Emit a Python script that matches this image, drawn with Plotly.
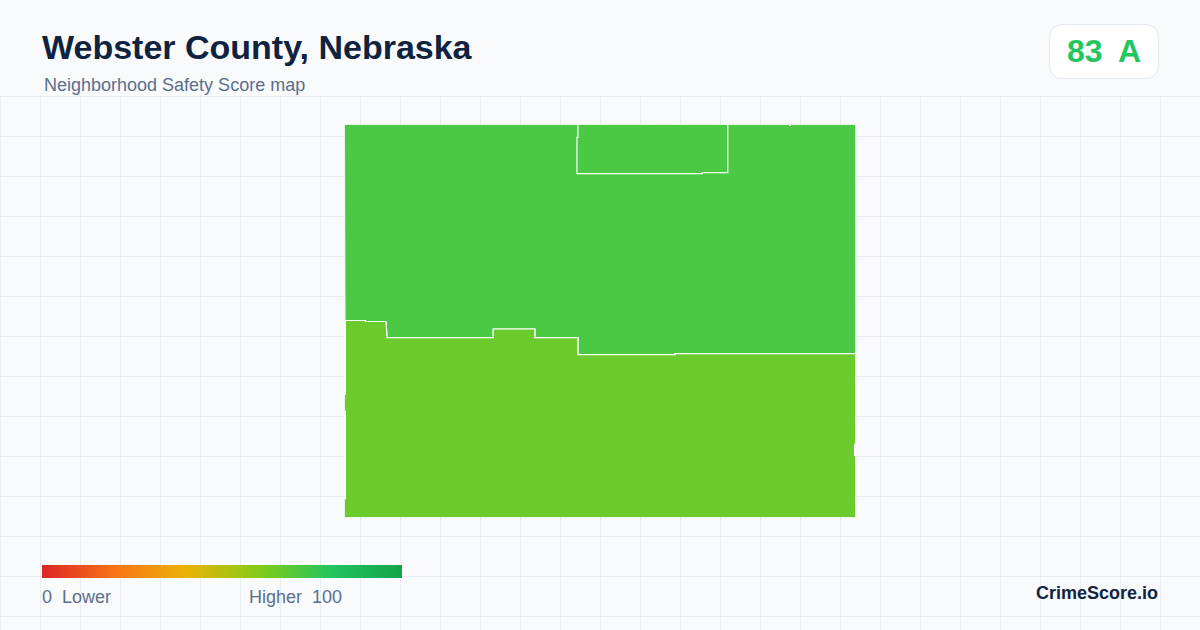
#!/usr/bin/python

import plotly.graph_objects as go

# county pieces, lon / lat
north_lon = [-98.72, -98.3204, -98.3204, -98.3195, -98.3195, -98.261, -98.261, -98.423, -98.423, -98.5103, -98.5103,
             -98.549, -98.549, -98.58635, -98.58635, -98.68175, -98.6822, -98.68265, -98.7011, -98.7011, -98.71955,
             -98.71955, -98.72, -98.72]
north_lat = [40.3528, 40.3528, 40.3519, 40.3519, 40.3528, 40.3528, 40.14715, 40.14715, 40.14625, 40.14625, 40.16155,
             40.16155, 40.1692, 40.1692, 40.16155, 40.16155, 40.1692, 40.17595, 40.17595, 40.17685, 40.17685,
             40.261, 40.261, 40.3528]

town_lon = [-98.5103, -98.37575, -98.37575, -98.3987, -98.3987, -98.5112, -98.5112, -98.5103, -98.5103]
town_lat = [40.3528, 40.3528, 40.3096, 40.3096, 40.3087, 40.3087, 40.3411, 40.3411, 40.3528]

south_lon = [-98.7191, -98.7011, -98.7011, -98.68265, -98.6822, -98.68175, -98.58635, -98.58635, -98.549, -98.549,
             -98.5103, -98.5103, -98.423, -98.423, -98.261, -98.261, -98.2619, -98.2619, -98.261, -98.261, -98.72,
             -98.72, -98.7191, -98.7191, -98.72, -98.72, -98.7191, -98.7191]
south_lat = [40.17685, 40.17685, 40.17595, 40.17595, 40.1692, 40.16155, 40.16155, 40.1692, 40.1692, 40.16155,
             40.16155, 40.14625, 40.14625, 40.14715, 40.14715, 40.0657, 40.0657, 40.0558, 40.0558, 40.0, 40.0,
             40.0171, 40.0171, 40.0954, 40.0954, 40.1107, 40.1107, 40.17685]

north_color = "#4bc944"
town_color = "#4bc944"
south_color = "#6bcb2c"

# legend ramp
legend_scores = [0, 20, 40, 60, 80, 100]
legend_colors = ["#dc2626", "#f97316", "#eab308", "#84cc16", "#22c55e", "#16a34a"]

bg = "#f8fafc"
grid = "#e6eef2"
navy = "#0f2341"
slate = "#5b6f8c"

fig = go.Figure()

for lon, lat, color in [(north_lon, north_lat, north_color),
                        (town_lon, town_lat, town_color),
                        (south_lon, south_lat, south_color)]:
    fig.add_trace(go.Scatter(x=lon, y=lat, mode="lines", fill="toself", fillcolor=color,
                             line=dict(color="#ffffff", width=1.2), hoverinfo="skip",
                             showlegend=False, xaxis="x2", yaxis="y2"))

fig.add_trace(go.Heatmap(x=legend_scores, y=[0, 1], z=[legend_scores, legend_scores], zmin=0, zmax=100,
                         zsmooth="best", showscale=False, hoverinfo="skip",
                         colorscale=[[s / 100, c] for s, c in zip(legend_scores, legend_colors)],
                         xaxis="x3", yaxis="y3"))

# background grid + score badge, in page pixels
shapes = []
for x in range(0, 1200, 40):
    shapes.append(dict(type="line", xref="x", yref="y", x0=x + 0.5, x1=x + 0.5, y0=96, y1=630,
                       line=dict(color=grid, width=1), layer="below"))
for y in range(96, 630, 40):
    shapes.append(dict(type="line", xref="x", yref="y", x0=0, x1=1200, y0=y + 0.5, y1=y + 0.5,
                       line=dict(color=grid, width=1), layer="below"))
shapes.append(dict(type="path", xref="x", yref="y", layer="below",
                   path="M 1063.5 24.5 L 1144.5 24.5 Q 1158.5 24.5 1158.5 38.5 L 1158.5 64.5 Q 1158.5 78.5 1144.5 78.5 "
                        "L 1063.5 78.5 Q 1049.5 78.5 1049.5 64.5 L 1049.5 38.5 Q 1049.5 24.5 1063.5 24.5 Z",
                   fillcolor="#ffffff", line=dict(color="#e2e8f0", width=1)))


def label(x, y, text, size, color, bold=False, anchor="left"):
    return dict(x=x, y=y, xref="x", yref="y", text="<b>%s</b>" % text if bold else text, showarrow=False,
                xanchor=anchor, yanchor="middle", borderpad=0, borderwidth=0,
                font=dict(family="Liberation Sans", size=size, color=color))


annotations = [
    label(42, 47, "Webster County, Nebraska", 34, navy, bold=True),
    label(44, 85, "Neighborhood Safety Score map", 18, slate),
    label(1066.5, 51, "83", 32, "#22c55e", bold=True),
    label(1117.5, 51, "A", 32, "#22c55e", bold=True),
    label(42, 597, "0", 18, slate),
    label(62, 597, "Lower", 18, slate),
    label(249, 597, "Higher", 18, slate),
    label(312, 597, "100", 18, slate),
    label(1158, 593, "CrimeScore.io", 18, navy, bold=True, anchor="right"),
]

hidden = dict(visible=False, fixedrange=True)
fig.update_layout(
    width=1200, height=630, autosize=False,
    margin=dict(l=0, r=0, t=0, b=0, pad=0),
    paper_bgcolor=bg, plot_bgcolor="rgba(0,0,0,0)",
    showlegend=False,
    shapes=shapes,
    annotations=annotations,
    xaxis=dict(range=[0, 1200], domain=[0, 1], **hidden),
    yaxis=dict(range=[630, 0], domain=[0, 1], **hidden),
    xaxis2=dict(range=[-98.72, -98.261], domain=[344.4 / 1200, 855.6 / 1200], anchor="y2", **hidden),
    yaxis2=dict(range=[40.0, 40.3528], domain=[112.4 / 630, 505.6 / 630], anchor="x2", **hidden),
    xaxis3=dict(range=[0, 100], domain=[42 / 1200, 402 / 1200], anchor="y3", **hidden),
    yaxis3=dict(range=[0, 1], domain=[52 / 630, 65 / 630], anchor="x3", **hidden),
)

# the pixel axes need a trace, otherwise they never get drawn
fig.add_trace(go.Scatter(x=[None], y=[None], mode="lines", hoverinfo="skip", showlegend=False))

# page margin would push everything 8px off
fig.write_html("out.html", config=dict(displayModeBar=False),
               post_script="document.body.style.margin='0';document.body.style.overflow='hidden';")
